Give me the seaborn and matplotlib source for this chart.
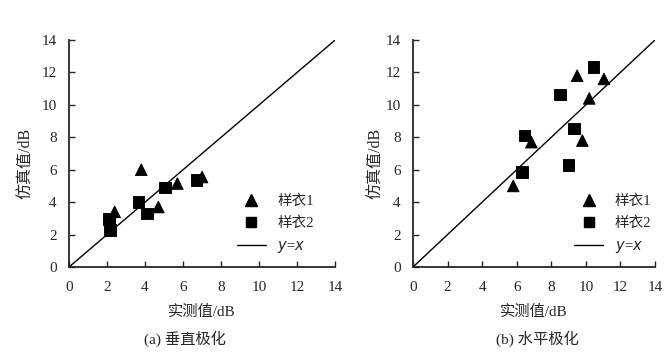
import pandas as pd
import seaborn as sns
import matplotlib.pyplot as plt
from matplotlib.lines import Line2D

# (a) vertical polarisation
a_s1_x = [3.8, 2.4, 4.7, 5.7, 7.0, 2.2]
a_s1_y = [6.0, 3.4, 3.7, 5.15, 5.55, 2.35]
a_s2_x = [2.1, 2.15, 3.65, 4.1, 5.05, 6.7]
a_s2_y = [2.95, 2.3, 4.0, 3.3, 4.9, 5.35]

# (b) horizontal polarisation
b_s1_x = [9.5, 11.05, 10.2, 6.85, 9.8, 5.8]
b_s1_y = [11.8, 11.6, 10.4, 7.7, 7.8, 5.0]
b_s2_x = [10.45, 8.5, 6.45, 9.3, 9.0, 6.3]
b_s2_y = [12.35, 10.65, 8.1, 8.55, 6.3, 5.85]

ticks = [0, 2, 4, 6, 8, 10, 12, 14]
captions = ['(a) 垂直极化', '(b) 水平极化']

sns.set_style('ticks')
plt.rcParams['font.family'] = ['Liberation Serif', 'Noto Sans CJK SC']
plt.rcParams['xtick.direction'] = 'in'
plt.rcParams['ytick.direction'] = 'in'

def make_df(s1x, s1y, s2x, s2y):
    return pd.DataFrame({
        'x': s1x + s2x,
        'y': s1y + s2y,
        'g': ['样衣1'] * len(s1x) + ['样衣2'] * len(s2x),
    })

frames = [make_df(a_s1_x, a_s1_y, a_s2_x, a_s2_y),
          make_df(b_s1_x, b_s1_y, b_s2_x, b_s2_y)]

fig = plt.figure(figsize=(6.72, 3.56), dpi=100)
ax1 = fig.add_axes([0.1027, 0.25, 0.396, 0.6376])
ax2 = fig.add_axes([0.6146, 0.25, 0.360, 0.6376])

# per-panel tweaks: ylabel x (axes coords), legend anchor x, caption x (fig coords)
ylab_x = [-0.135, -0.124]
leg_x = [0.97, 1.04]
cap_x = [0.275, 0.80]

for i, (ax, df, cap) in enumerate(zip([ax1, ax2], frames, captions)):
    sns.lineplot(x=[0, 14], y=[0, 14], color='black', lw=1.0, ax=ax)
    sns.scatterplot(data=df, x='x', y='y', style='g',
                    markers={'样衣1': '^', '样衣2': 's'},
                    color='black', s=70, edgecolor='black', legend=False, ax=ax)
    ax.set_xlim(0, 14)
    ax.set_ylim(0, 14)
    ax.set_xticks(ticks)
    ax.set_yticks(ticks)
    ax.tick_params(labelsize=11, length=4, width=1)
    ax.tick_params(axis='x', pad=10)
    ax.tick_params(axis='y', pad=9)
    sns.despine(ax=ax)
    for sp in ['left', 'bottom']:
        ax.spines[sp].set_linewidth(1.3)
    ax.set_xlabel('实测值/dB', fontsize=11)
    ax.set_ylabel('仿真值/dB', fontsize=11.5)
    ax.xaxis.set_label_coords(0.5, -0.167)
    ax.yaxis.set_label_coords(ylab_x[i], 0.458)
    fig.text(cap_x[i], 0.048, cap, ha='center', va='center', fontsize=11)
    handles = [
        Line2D([], [], marker='^', color='black', ls='none', markersize=8),
        Line2D([], [], marker='s', color='black', ls='none', markersize=7),
        Line2D([], [], color='black', lw=1.0),
    ]
    labels = ['样衣1', '样衣2', '$y$=$x$']
    ax.legend(handles, labels, loc='lower right', bbox_to_anchor=(leg_x[i], -0.005),
              frameon=False, fontsize=10.5, handlelength=2.0, labelspacing=0.6)

fig.savefig('out.png', dpi=100)
